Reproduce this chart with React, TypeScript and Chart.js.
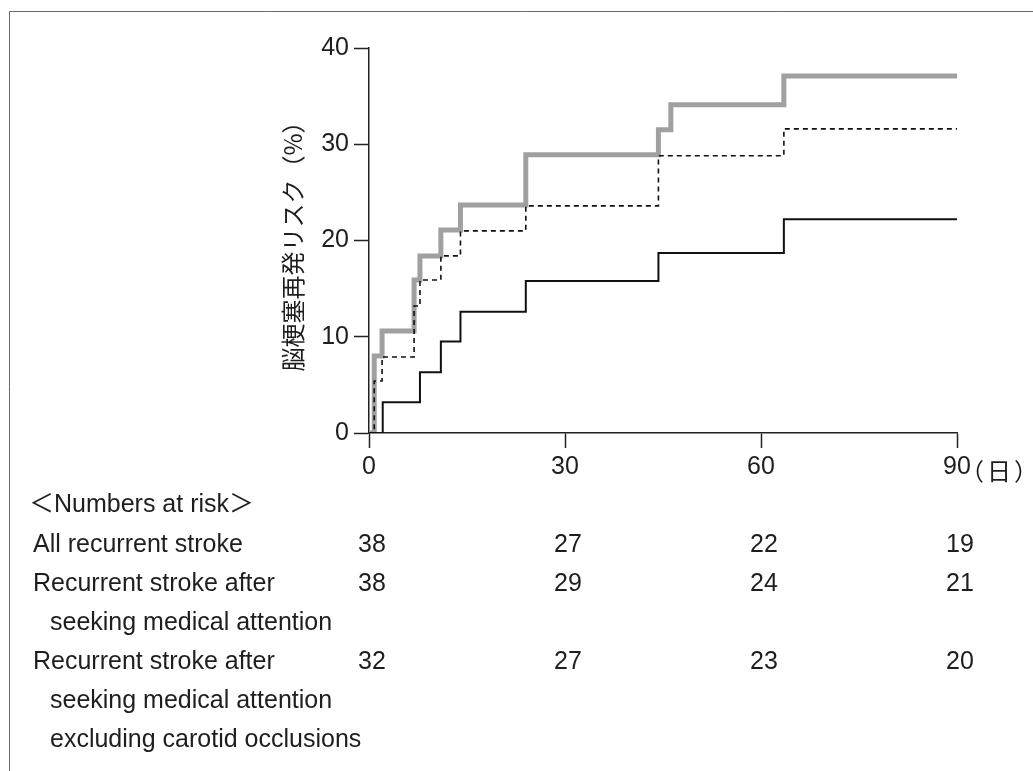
import { useEffect, useRef } from "react";
import { Chart, registerables } from "chart.js";

Chart.register(...registerables);

// ---- data ----
const xTickValues = [0, 30, 60, 90];
const yTickValues = [0, 10, 20, 30, 40];
const xUnitLabel = "（日）";
const yAxisTitle = "脳梗塞再発リスク（%）";

// All recurrent stroke (thick grey)
const allDays = [0, 0.8, 2, 6.9, 7.8, 11, 14, 24, 44.3, 46.2, 63.5, 90];
const allRisk = [0, 8.0, 10.6, 15.9, 18.4, 21.1, 23.7, 28.9, 31.5, 34.1, 37.1, 37.1];

// Recurrent stroke after seeking medical attention (dashed)
const seekDays = [0, 0.8, 2, 6.9, 7.8, 11, 14, 24, 44.3, 63.5, 90];
const seekRisk = [0, 5.4, 7.9, 13.2, 15.9, 18.4, 21.0, 23.6, 28.8, 31.6, 31.6];

// ... excluding carotid occlusions (solid black)
const exclDays = [0, 2.1, 7.8, 11, 14, 24, 44.3, 63.5, 90];
const exclRisk = [0, 3.2, 6.3, 9.5, 12.6, 15.8, 18.7, 22.2, 22.2];

// Numbers at risk table
const riskHeader = "＜Numbers at risk＞";
const riskTimes = [0, 30, 60, 90];
const riskRowLabels = [
  ["All recurrent stroke"],
  ["Recurrent stroke after", "seeking medical attention"],
  ["Recurrent stroke after", "seeking medical attention", "excluding carotid occlusions"],
];
const riskAll = [38, 27, 22, 19];
const riskSeek = [38, 29, 24, 21];
const riskExcl = [32, 27, 23, 20];
const riskRows = [riskAll, riskSeek, riskExcl];

const toPoints = (xs: number[], ys: number[]) => xs.map((x, i) => ({ x, y: ys[i] }));

const LATIN = '"Liberation Sans", Arial, "Noto Sans CJK JP", sans-serif';
const CJK = '"Noto Sans CJK JP", "Liberation Sans", sans-serif';
const INK = "#1e1e1e";

const extrasPlugin = {
  id: "extras",
  afterDraw(chart: any) {
    const { ctx } = chart;
    const xs = chart.scales.x;
    ctx.save();
    // frame
    ctx.strokeStyle = "#6a6a6a";
    ctx.lineWidth = 1;
    ctx.beginPath();
    ctx.moveTo(9.5, 771);
    ctx.lineTo(9.5, 11.5);
    ctx.lineTo(1033, 11.5);
    ctx.stroke();

    // unit after last x tick
    ctx.fillStyle = INK;
    ctx.font = `24px ${CJK}`;
    ctx.textAlign = "left";
    ctx.textBaseline = "middle";
    (ctx as any).letterSpacing = "3px";
    ctx.fillText(xUnitLabel, xs.getPixelForValue(xTickValues[xTickValues.length - 1]) + 3, 471);
    (ctx as any).letterSpacing = "0px";

    // numbers at risk
    ctx.font = `25px ${LATIN}`;
    ctx.textBaseline = "alphabetic";
    ctx.textAlign = "left";
    const capOff = 9;
    ctx.fillText(riskHeader, 29, 503 + capOff);
    const rowStart = [542.5, 581.5, 659.5];
    const lineGap = 39;
    riskRowLabels.forEach((lines, r) => {
      ctx.textAlign = "left";
      lines.forEach((t, i) => {
        ctx.fillText(t, i === 0 ? 33 : 50, rowStart[r] + capOff + i * lineGap);
      });
      ctx.textAlign = "center";
      riskRows[r].forEach((v, j) => {
        ctx.fillText(String(v), xs.getPixelForValue(riskTimes[j]) + 3, rowStart[r] + capOff);
      });
    });
    ctx.restore();
  },
};

export default function App() {
  const ref = useRef<HTMLCanvasElement>(null);

  useEffect(() => {
    const canvas = ref.current;
    if (!canvas) return;
    const chart = new Chart(canvas, {
      type: "line",
      data: {
        datasets: [
          {
            label: "Recurrent stroke after seeking medical attention excluding carotid occlusions",
            data: toPoints(exclDays, exclRisk),
            borderColor: "#111",
            borderWidth: 2,
            stepped: "before",
            pointRadius: 0,
            order: 1,
          },
          {
            label: "Recurrent stroke after seeking medical attention",
            data: toPoints(seekDays, seekRisk),
            borderColor: "#111",
            borderWidth: 1.6,
            borderDash: [5, 4],
            stepped: "before",
            pointRadius: 0,
            order: 2,
          },
          {
            label: "All recurrent stroke",
            data: toPoints(allDays, allRisk),
            borderColor: "#a0a0a0",
            borderWidth: 5,
            stepped: "before",
            pointRadius: 0,
            order: 3,
          },
        ],
      },
      options: {
        responsive: false,
        animation: false,
        devicePixelRatio: 1,
        layout: { padding: { top: 48, right: 76, bottom: 0, left: 0 } },
        plugins: {
          legend: { display: false },
          tooltip: { enabled: false },
        },
        scales: {
          x: {
            type: "linear",
            min: 0,
            max: 90,
            afterBuildTicks: (s: any) => {
              s.ticks = xTickValues.map((v) => ({ value: v }));
            },
            afterFit: (s: any) => {
              s.height = 771 - 433;
            },
            grid: {
              drawOnChartArea: false,
              drawTicks: true,
              tickLength: 15,
              tickWidth: 1.5,
              color: "#222",
            },
            border: { display: true, color: "#222", width: 1.5 },
            ticks: {
              color: INK,
              font: { family: LATIN, size: 25 },
              padding: 4,
              maxRotation: 0,
              autoSkip: false,
            },
          },
          y: {
            type: "linear",
            min: 0,
            max: 40,
            afterBuildTicks: (s: any) => {
              s.ticks = yTickValues.map((v) => ({ value: v }));
            },
            afterFit: (s: any) => {
              s.width = 369;
            },
            grid: {
              drawOnChartArea: false,
              drawTicks: true,
              tickLength: 15,
              tickWidth: 1.5,
              color: "#222",
            },
            border: { display: true, color: "#222", width: 1.5 },
            ticks: {
              color: INK,
              font: { family: LATIN, size: 25 },
              padding: 5,
            },
            title: {
              display: true,
              text: yAxisTitle,
              color: INK,
              font: { family: CJK, size: 24 },
              padding: { top: 278, bottom: 0 },
            },
          },
        },
      },
      plugins: [extrasPlugin],
    });
    return () => chart.destroy();
  }, []);

  return (
    <div style={{ position: "fixed", left: 0, top: 0, width: 1033, height: 771, background: "#fff" }}>
      <canvas ref={ref} width={1033} height={771} style={{ display: "block", width: 1033, height: 771 }} />
    </div>
  );
}
